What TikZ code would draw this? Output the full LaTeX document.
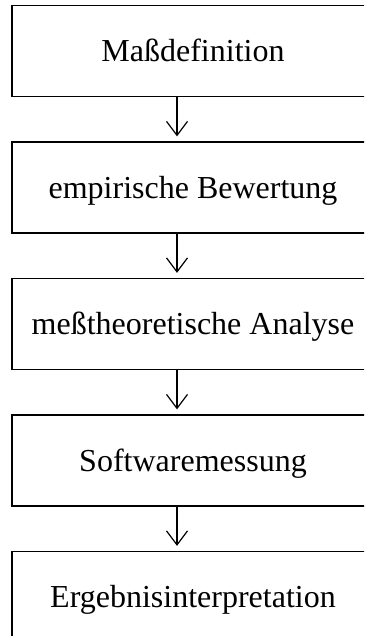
\documentclass[tikz,border=0pt]{standalone}
\usepackage{fontspec}
\setmainfont{Liberation Serif}
\usetikzlibrary{arrows.meta}
\begin{document}
\begin{tikzpicture}[x=1pt,y=1pt,
  stepbox/.style={draw, line width=1.2pt, minimum width=362pt, minimum height=91pt,
    inner sep=0pt, text height=21.5pt, text depth=0pt,
    font=\fontsize{32}{36}\selectfont},
  flow/.style={line width=1.2pt, -{Straight Barb[length=14pt, width=21pt, line width=1.2pt]}}]
\useasboundingbox (0,0) rectangle (364,-636);
\clip (0,0) rectangle (364,-636);
\fill[white] (0,0) rectangle (364,-636);
\node[stepbox] (b1) at (193,-51) {Maßdefinition};
\node[stepbox] (b2) at (193,-187.5) {empirische Bewertung};
\node[stepbox] (b3) at (193,-324) {meßtheoretische Analyse};
\node[stepbox] (b4) at (193,-460.5) {Softwaremessung};
\node[stepbox] (b5) at (193,-597) {Ergebnisinterpretation};
\coordinate (ax) at (177,0);
\foreach \a/\b in {b1/b2,b2/b3,b3/b4,b4/b5}
  \draw[flow] (\a.south -| ax) -- ([yshift=5pt]\b.north -| ax);
\end{tikzpicture}
\end{document}
